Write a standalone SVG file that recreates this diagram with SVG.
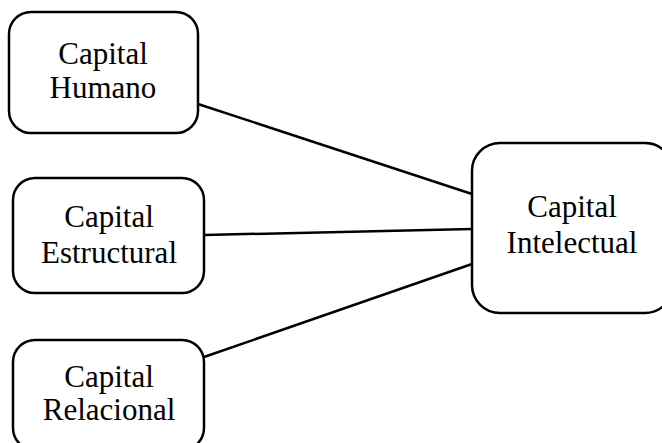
<svg xmlns="http://www.w3.org/2000/svg" width="662" height="443" viewBox="0 0 662 443">
<style>
.box{fill:#fff;stroke:#000;stroke-width:2.5}
.lbl{font-family:"Liberation Serif","Times New Roman",serif;font-size:31px;fill:#000;text-anchor:middle}
.con{stroke:#000;stroke-width:2.5;fill:none}
</style>
<rect width="662" height="443" fill="#fff"/>
<g id="connectors">
<line class="con" x1="198" y1="104" x2="472" y2="194"/>
<line class="con" x1="204" y1="235" x2="472" y2="229"/>
<line class="con" x1="204" y1="357" x2="472" y2="264"/>
</g>
<g id="humano">
<rect class="box" x="9" y="12" width="189" height="121" rx="22"/>
<text class="lbl" x="103" y="64">Capital</text>
<text class="lbl" x="103" y="98">Humano</text>
</g>
<g id="estructural">
<rect class="box" x="13" y="178" width="191" height="115" rx="22"/>
<text class="lbl" x="109" y="227">Capital</text>
<text class="lbl" x="109" y="263">Estructural</text>
</g>
<g id="relacional">
<rect class="box" x="13" y="340" width="191" height="110" rx="22"/>
<text class="lbl" x="109" y="387">Capital</text>
<text class="lbl" x="109" y="420">Relacional</text>
</g>
<g id="intelectual">
<rect class="box" x="472" y="143" width="201" height="170" rx="28"/>
<text class="lbl" x="572" y="217">Capital</text>
<text class="lbl" x="572" y="253">Intelectual</text>
</g>
</svg>
